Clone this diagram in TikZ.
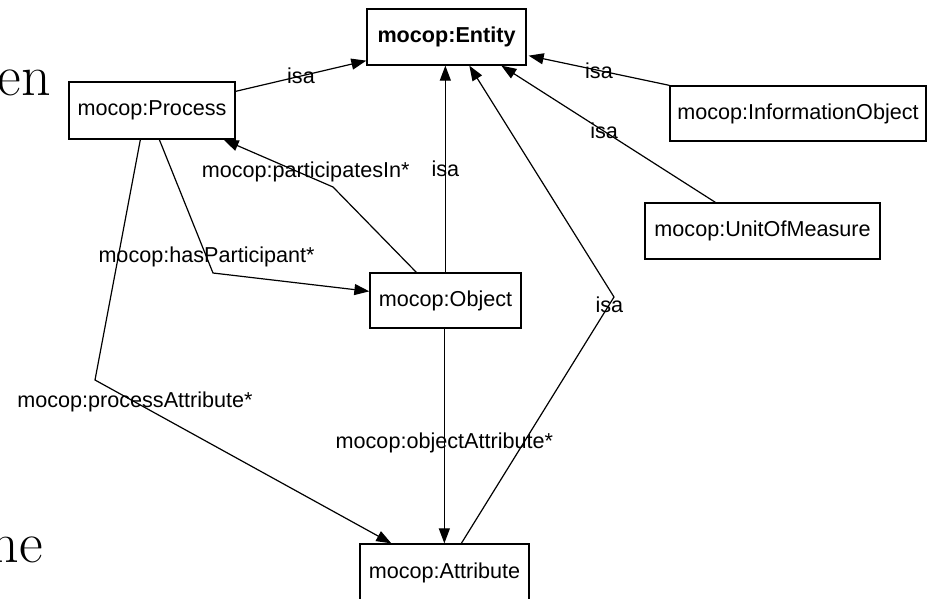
\documentclass[tikz,border=0pt]{standalone}
\usepackage{fontspec}
\setsansfont{Liberation Sans}
\usetikzlibrary{arrows.meta,calc}
\begin{document}
\begin{tikzpicture}[x=1pt,y=-1pt,
  concept/.style={draw, line width=1.3pt, rectangle, inner sep=0pt,
    font=\sffamily\fontsize{21.6}{26}\selectfont},
  rel/.style={line width=1.2pt, -{Triangle[length=15pt,width=11pt]}},
  lbl/.style={font=\sffamily\fontsize{21.6}{26}\selectfont, inner sep=0pt},
  prose/.style={font=\fontsize{58}{60}\selectfont, inner sep=0pt, anchor=base east}]
\useasboundingbox (0,0) rectangle (928,599);

% fragments of the surrounding page text
\node[prose] (frag1) at (51,96) {en};
\node[prose] (frag2) at (43,562) {ne};

% concepts
\node[concept, minimum width=159pt, minimum height=56pt, font=\sffamily\bfseries\fontsize{21.6}{26}\selectfont] (ent) at (446.5,37) {mocop:Entity};
\node[concept, minimum width=166pt, minimum height=57pt] (proc) at (152,110.5) {mocop:Process};
\node[concept, minimum width=256pt, minimum height=55pt] (info) at (798,113.5) {mocop:InformationObject};
\node[concept, minimum width=235pt, minimum height=56pt] (unit) at (762.5,231) {mocop:UnitOfMeasure};
\node[concept, minimum width=151pt, minimum height=55pt] (obj) at (445.5,300.5) {mocop:Object};
\node[concept, minimum width=169pt, minimum height=58pt] (attr) at (444.5,573) {mocop:Attribute};

% bend points
\coordinate (bpart) at (333,187);
\coordinate (bhas) at (213,273);
\coordinate (bproc) at (95,380);
\coordinate (battr) at (614,297);

% isa links
\draw[rel] ($(proc.north east)+(0,10)$) -- node[lbl,pos=0.5]{isa} ($(ent.south west)+(0,-5)$);
\draw[rel] (info.north west) -- node[lbl,pos=0.5]{isa} ($(ent.south east)+(2,-10)$);
\draw[rel] ($(unit.north west)+(71,0)$) -- node[lbl,pos=0.52]{isa} ($(ent.south west)+(135,0)$);
\draw[rel] ($(obj.north west)+(76,0)$) -- node[lbl,pos=0.5]{isa} ($(ent.south west)+(79,0)$);
\draw[rel] ($(attr.north west)+(102,0)$) -- node[lbl,pos=0.97]{isa} (battr) -- ($(ent.south west)+(103,0)$);

% properties
\draw[rel] ($(obj.north west)+(47,0)$) -- (bpart) -- node[lbl,pos=0.25,yshift=3pt]{mocop:participatesIn*} ($(proc.south east)+(-12,0)$);
\draw[rel] ($(proc.south west)+(91,0)$) -- node[lbl,pos=0.88]{mocop:hasParticipant*} (bhas) -- ($(obj.north west)+(0,19)$);
\draw[rel] ($(proc.south west)+(72,0)$) -- (bproc) -- node[lbl,pos=0.135]{mocop:processAttribute*} ($(attr.north west)+(32,0)$);
\draw[rel] ($(obj.south west)+(75,0)$) -- node[lbl,pos=0.53]{mocop:objectAttribute*} ($(attr.north west)+(85,0)$);
\end{tikzpicture}
\end{document}
